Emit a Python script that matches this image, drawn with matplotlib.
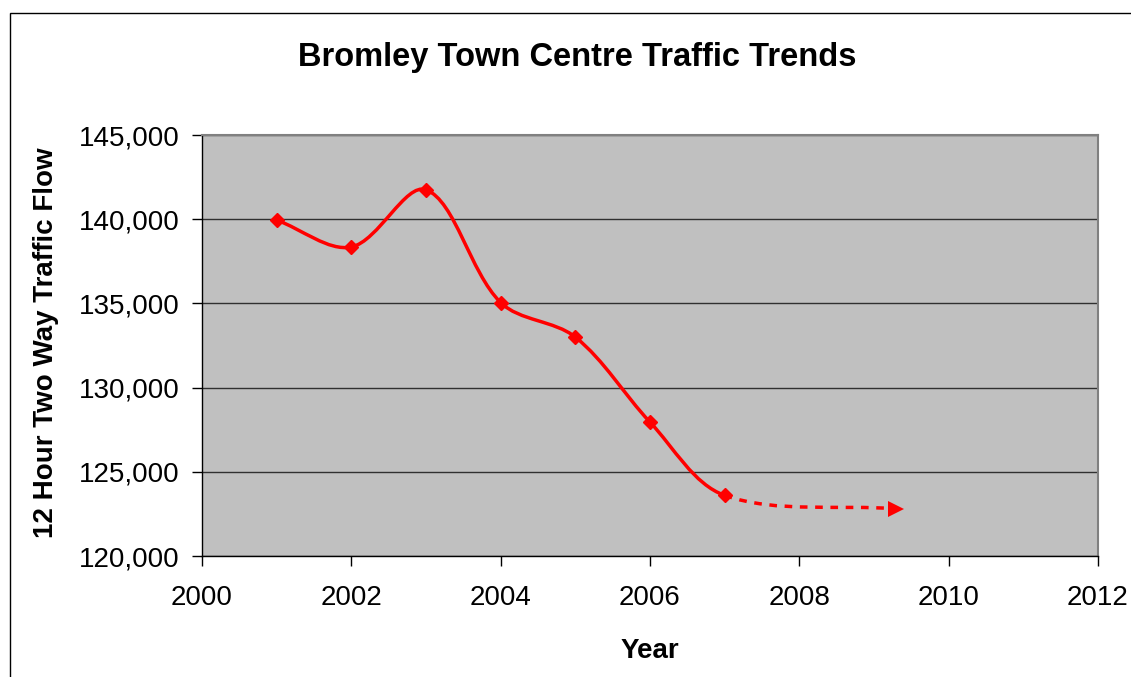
import numpy as np
import matplotlib
matplotlib.use("Agg")
import matplotlib.pyplot as plt
from matplotlib.patches import Rectangle, PathPatch
from matplotlib.path import Path

years = [2001, 2002, 2003, 2004, 2005, 2006, 2007]
flow = [139950, 138350, 141750, 135050, 133000, 127950, 123600]
forecast_year = 2009.3
forecast_flow = 122800
x_ticks = [2000, 2002, 2004, 2006, 2008, 2010, 2012]
y_ticks = [120000, 125000, 130000, 135000, 140000, 145000]

plt.rcParams['font.family'] = ['Liberation Sans', 'DejaVu Sans']

fig = plt.figure(figsize=(11.31, 6.77), dpi=100)
ax = fig.add_axes([202 / 1131, 1 - 556 / 677, (1098 - 202) / 1131, (556 - 135) / 677])
ax.set_facecolor('#C0C0C0')
ax.set_xlim(2000, 2012)
ax.set_ylim(120000, 145000)


def excel_segments(xs, ys):
    """Excel-style smoothed line: cubic Bezier segments with control points
    scaled by neighbouring chord lengths (computed in display space)."""
    P = ax.transData.transform(np.column_stack([xs, ys]).astype(float))
    inv = ax.transData.inverted()
    m = len(P)
    segs = []
    for i in range(m - 1):
        p0 = P[i - 1] if i > 0 else P[i]
        p1 = P[i]
        p2 = P[i + 1]
        p3 = P[i + 2] if i + 2 < m else P[i + 1]
        d01 = np.hypot(*(p1 - p0))
        d12 = np.hypot(*(p2 - p1))
        d23 = np.hypot(*(p3 - p2))
        f1 = d12 / (d01 + d12) if d01 + d12 > 0 else 0
        f2 = d12 / (d12 + d23) if d12 + d23 > 0 else 0
        c1 = p1 + (p2 - p0) * f1 / 3.0
        c2 = p2 - (p3 - p1) * f2 / 3.0
        segs.append(inv.transform(np.array([p1, c1, c2, p2])))
    return segs


all_x = years + [forecast_year]
all_y = flow + [forecast_flow]
segs = excel_segments(all_x, all_y)

solid = [segs[0]] + [s[1:] for s in segs[1:-1]]
verts = np.vstack(solid)
codes = [Path.MOVETO] + [Path.CURVE4] * (len(verts) - 1)
ax.add_patch(PathPatch(Path(verts, codes), fill=False, edgecolor='#FF0000', lw=2.5,
                       capstyle='round', joinstyle='round', zorder=3))

dash = segs[-1]
ax.add_patch(PathPatch(Path(dash, [Path.MOVETO] + [Path.CURVE4] * 3), fill=False,
                       edgecolor='#FF0000', lw=2.5, ls=(0, (2.2, 2.2)), zorder=3))

ax.plot(years, flow, ls='none', marker='D', ms=7.5, color='#FF0000', zorder=4)
ax.plot([forecast_year], [forecast_flow], ls='none', marker='>', ms=11, color='#FF0000',
        markeredgewidth=0, zorder=4)

ax.set_xticks(x_ticks)
ax.set_yticks(y_ticks)
ax.set_yticklabels([f"{v:,}" for v in y_ticks])
ax.yaxis.grid(True, color='#303030', lw=1.0)
ax.set_axisbelow(True)
ax.tick_params(axis='both', direction='out', length=7, width=1, labelsize=20, color='black')
ax.tick_params(axis='y', pad=9)
ax.tick_params(axis='x', pad=14)

for s in ['top', 'right']:
    ax.spines[s].set_color('#808080')
    ax.spines[s].set_linewidth(1.5)
for s in ['left', 'bottom']:
    ax.spines[s].set_color('black')
    ax.spines[s].set_linewidth(1.0)

fig.text(577 / 1131, 1 - 66 / 677, 'Bromley Town Centre Traffic Trends', ha='center', va='baseline',
         fontsize=23.5, fontweight='bold')
fig.text(650 / 1131, 1 - 658 / 677, 'Year', ha='center', va='baseline', fontsize=20, fontweight='bold')
fig.text(46 / 1131, 1 - 343 / 677, '12 Hour Two Way Traffic Flow', ha='center', va='center',
         fontsize=20, fontweight='bold', rotation=90)

fig.patches.append(Rectangle((9.5 / 1131, -0.2), 1.5, 1.2 - 12.5 / 677, transform=fig.transFigure,
                             fill=False, edgecolor='black', lw=1.0, figure=fig))

fig.savefig('out.png', dpi=100)
